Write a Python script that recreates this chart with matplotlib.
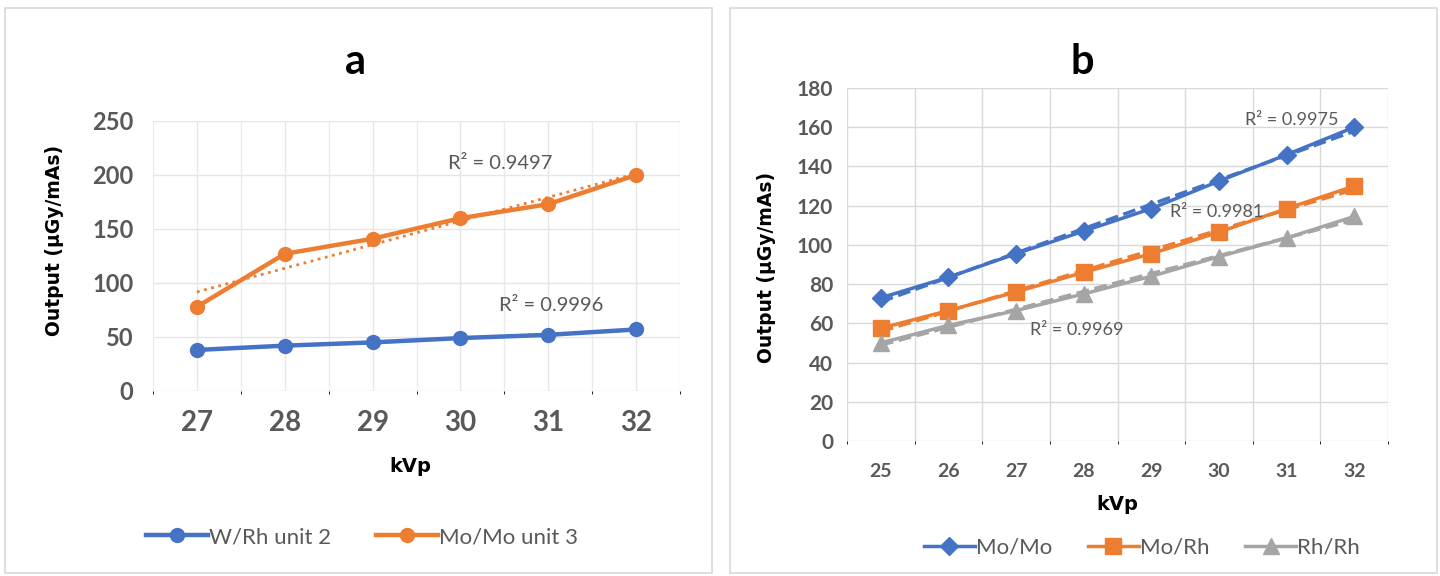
import numpy as np
import matplotlib
matplotlib.use("Agg")
import matplotlib.pyplot as plt
from matplotlib import patches
from matplotlib.lines import Line2D

# ---- data ----
kvp_a = [27, 28, 29, 30, 31, 32]
wrh_unit2 = [38, 42, 45, 49, 52, 57]
momo_unit3 = [78, 127, 141, 160, 173, 200]
r2_a = ["0.9996", "0.9497"]

kvp_b = [25, 26, 27, 28, 29, 30, 31, 32]
mo_mo = [73, 83.5, 95.5, 107, 118.5, 132.5, 146, 160]
mo_rh = [57.5, 66.5, 76, 86, 95.5, 106.5, 118.5, 130]
rh_rh = [50, 59, 66.5, 75, 84, 94, 103.5, 114.5]
r2_b = ["0.9975", "0.9981", "0.9969"]

BLUE, ORANGE, GRAY = "#4472C4", "#ED7D31", "#A5A5A5"
TXT = "#595959"
W, H = 1440, 576

fig = plt.figure(figsize=(14.4, 5.76), dpi=100)

def fr(x0, y0, x1, y1):
    # pixel box (top-left origin) -> figure fraction
    return [x0 / W, 1 - y1 / H, (x1 - x0) / W, (y1 - y0) / H]

# panel borders
for x0, x1 in [(5, 712), (730, 1437)]:
    fig.patches.append(patches.Rectangle((x0 / W, 1 - 573 / H), (x1 - x0) / W, 565 / H,
                                         transform=fig.transFigure, fill=False,
                                         ec="#D9D9D9", lw=1.2))

def trend(x, y):
    c = np.polyfit(x, y, 1)
    return np.polyval(c, x)

def style(ax, grid_color):
    for s in ax.spines.values():
        s.set_visible(False)
    ax.tick_params(length=0, colors=TXT)
    ax.grid(True, color=grid_color, lw=1.0)
    ax.set_axisbelow(True)
    for t in ax.get_xticklabels() + ax.get_yticklabels():
        t.set_fontfamily("Lato")
        t.set_fontweight("bold")
        t.set_color(TXT)

# ---- panel a ----
ax = fig.add_axes(fr(153, 121, 680, 391))
ax.plot(kvp_a, trend(kvp_a, wrh_unit2), ls=":", color=BLUE, lw=2)
ax.plot(kvp_a, trend(kvp_a, momo_unit3), ls=":", color=ORANGE, lw=2)
ax.plot(kvp_a, wrh_unit2, color=BLUE, lw=3.2, marker="o", ms=10)
ax.plot(kvp_a, momo_unit3, color=ORANGE, lw=3.2, marker="o", ms=10)
ax.set_xlim(26.5, 32.5)
ax.set_ylim(0, 250)
ax.set_yticks(range(0, 251, 50))
ax.set_xticks(kvp_a)
ax.set_xticks(np.arange(26.5, 32.6, 0.5), minor=True)
ax.grid(True, which="minor", axis="x", color="#EBEBEB", lw=1.0)
style(ax, "#E6E6E6")
ax.tick_params(axis="x", labelsize=20, pad=14)
ax.tick_params(axis="y", labelsize=17, pad=14)
ax.text(30.45, 211, "R² = " + r2_a[1], fontsize=14.5, color=TXT, family="Lato",
        ha="center", va="center")
ax.text(31.03, 79.5, "R² = " + r2_a[0], fontsize=14.5, color=TXT, family="Lato",
        ha="center", va="center")
fig.text(356 / W, 1 - 62 / H, "a", fontsize=30, fontweight="bold", family="Lato",
         ha="center", va="center")
fig.text(55 / W, 1 - 240 / H, "Output (µGy/mAs)", rotation=90, fontsize=13.5,
         fontweight="bold", ha="center", va="center")
fig.text(410 / W, 1 - 467 / H, "kVp", fontsize=14, fontweight="bold", ha="center", va="center")
h = [Line2D([], [], color=BLUE, lw=3.2, marker="o", ms=10),
     Line2D([], [], color=ORANGE, lw=3.2, marker="o", ms=10)]
fig.legend(h, ["W/Rh unit 2", "Mo/Mo unit 3"], loc="center", ncol=2,
           bbox_to_anchor=(362 / W, 1 - 537 / H), frameon=False,
           prop={"family": "Lato", "size": 16}, handlelength=2.8,
           handletextpad=0.05, columnspacing=2.0, labelcolor=TXT)

# ---- panel b ----
bx = fig.add_axes(fr(847, 88, 1388, 441))
for y, c, m, ms in [(mo_mo, BLUE, "D", 9), (mo_rh, ORANGE, "s", 12), (rh_rh, GRAY, "^", 11)]:
    bx.plot(kvp_b, trend(kvp_b, y), ls="--", color=c, lw=2.5)
    bx.plot(kvp_b, y, color=c, lw=2.5, marker=m, ms=ms)
bx.set_xlim(24.5, 32.5)
bx.set_ylim(0, 180)
bx.set_yticks(range(0, 181, 20))
bx.set_xticks(kvp_b)
bx.set_xticks(np.arange(24.5, 32.6, 1.0), minor=True)
style(bx, "#D9D9D9")
bx.grid(False, axis="x", which="major")
bx.grid(True, which="minor", axis="x", color="#D9D9D9", lw=1.0)
bx.tick_params(axis="x", labelsize=14, pad=16)
bx.tick_params(axis="y", labelsize=15, pad=10)
bx.text(31.08, 163.5, "R² = " + r2_b[0], fontsize=13, color=TXT, family="Lato",
        ha="center", va="center")
bx.text(29.97, 116.8, "R² = " + r2_b[1], fontsize=13, color=TXT, family="Lato",
        ha="center", va="center")
bx.text(27.9, 56.6, "R² = " + r2_b[2], fontsize=13, color=TXT, family="Lato",
        ha="center", va="center")
fig.text(1082 / W, 1 - 62 / H, "b", fontsize=30, fontweight="bold", family="Lato",
         ha="center", va="center")
fig.text(766 / W, 1 - 267 / H, "Output (µGy/mAs)", rotation=90, fontsize=13.5,
         fontweight="bold", ha="center", va="center")
fig.text(1117 / W, 1 - 505 / H, "kVp", fontsize=14, fontweight="bold", ha="center", va="center")
h = [Line2D([], [], color=BLUE, lw=2.5, marker="D", ms=9),
     Line2D([], [], color=ORANGE, lw=2.5, marker="s", ms=12),
     Line2D([], [], color=GRAY, lw=2.5, marker="^", ms=11)]
fig.legend(h, ["Mo/Mo", "Mo/Rh", "Rh/Rh"], loc="center", ncol=3,
           bbox_to_anchor=(1142 / W, 1 - 548 / H), frameon=False,
           prop={"family": "Lato", "size": 16}, handlelength=2.3,
           handletextpad=0.05, columnspacing=1.6, labelcolor=TXT)

fig.savefig("out.png", dpi=100)
